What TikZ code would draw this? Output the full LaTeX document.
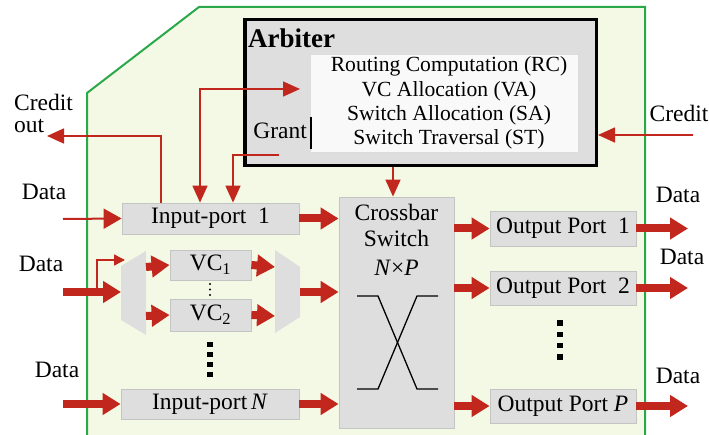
\documentclass[tikz,border=0pt]{standalone}
\usepackage{fontspec}
\setmainfont{Liberation Serif}
\usetikzlibrary{arrows.meta}
\definecolor{rd}{HTML}{C1271D}
\definecolor{bg}{HTML}{F4F9E6}
\definecolor{gr}{HTML}{2BA84A}
\definecolor{bx}{HTML}{DEDEDE}
\definecolor{bxl}{HTML}{C4C4C4}
\definecolor{wb}{HTML}{F9F9F9}
\begin{document}
\begin{tikzpicture}[x=1pt,y=-1pt,
  every node/.style={font=\fontsize{23.5}{26}\selectfont, inner sep=0pt},
  box/.style={draw=bxl, fill=bx, line width=0.8pt},
  fat/.style={draw=rd, line width=8pt, -{Triangle[length=18pt,width=21pt]}},
  slim/.style={draw=rd, line width=1.6pt, -{Triangle[length=17pt,width=15pt]}},
  lbl/.style={anchor=base}]
\useasboundingbox (0,0) rectangle (709,435);
% router outline
\fill[bg] (87,440) -- (87,93) -- (199,7) -- (645,7) -- (645,440) -- cycle;
\draw[gr, line width=2pt] (87,440) -- (87,93) -- (199,7) -- (645,7) -- (645,440);
% arbiter
\node[draw=black, line width=3.5pt, fill=bx, minimum width=351.5pt, minimum height=146pt] (arb) at (420.5,92.5) {};
\node[anchor=base west, font=\bfseries\fontsize{27}{30}\selectfont] (arbt) at (248,48) {Arbiter};
\node[draw=bxl!60, fill=wb, line width=0.6pt, minimum width=268pt, minimum height=98pt] (algbox) at (444,103) {};
\node[align=center, font=\fontsize{21.6}{24.3}\selectfont] (alg) at (449,103) {Routing Computation (RC)\\VC Allocation (VA)\\Switch Allocation (SA)\\Switch Traversal (ST)};
\node[anchor=base east] (grant) at (307,139) {Grant};
\draw[line width=1.2pt] (311,117) -- (311,149);
% input side
\node[box, minimum width=177pt, minimum height=31pt] (p1) at (210.5,218.5) {Input-port\ \ 1};
\node[box, minimum width=81pt, minimum height=30pt] (vc1) at (210.5,265) {VC\textsubscript{1}};
\node[box, minimum width=81pt, minimum height=32pt] (vc2) at (210.5,315) {VC\textsubscript{2}};
\node[box, minimum width=178pt, minimum height=30pt] (pn) at (210,404) {Input-port\,\textit{N}};
\fill[bx] (121,266) -- (146,251) -- (146,335) -- (121,320) -- cycle;
\fill[bx] (275,250) -- (300,267) -- (300,317) -- (275,333) -- cycle;
\coordinate (dmxin) at (121,292);
\coordinate (dmx1) at (146,267);
\coordinate (dmx2) at (146,316);
\coordinate (mux1) at (275,267);
\coordinate (mux2) at (275,316);
\coordinate (muxout) at (300,292);
% crossbar
\node[box, minimum width=115pt, minimum height=231pt] (xbar) at (396.5,312.5) {};
\node[anchor=north, align=center] (xbart) at (396.5,203.5) {Crossbar\\Switch\\[3pt]\textit{N}×\textit{P}};
\draw[line width=1.3pt] (357,296) -- (378,296) -- (417,389) -- (438,389);
\draw[line width=1.3pt] (438,296) -- (417,296) -- (378,389) -- (357,389);
% outputs
\node[box, minimum width=146pt, minimum height=35pt] (o1) at (563,228.5) {Output Port\ \ 1};
\node[box, minimum width=146pt, minimum height=34pt] (o2) at (563,288) {Output Port\ \ 2};
\node[box, minimum width=146pt, minimum height=34pt] (op) at (563,406) {Output Port \textit{P}};
% dots
\foreach \y in {284,289.5,295} \fill (210,\y) circle (1.1pt);
\foreach \y in {344.5,354.5,364.5,374.5} \fill (207,\y-2.75) rectangle ++(6,5.5);
\foreach \y in {323,334.5,345.5,357} \fill (556.5,\y-2.75) rectangle ++(6,5.5);
% data arrows in
\coordinate (d1) at (63,219);
\coordinate (d2) at (63,292);
\coordinate (dn) at (63,404);
\coordinate (br) at (97,292);
\coordinate (brend) at (125,260);
\draw[draw=rd, line width=2pt, -{Triangle[length=18pt,width=20pt]}] (d1) -- (p1.west);
\draw[fat] (d2) -- (dmxin);
\draw[draw=rd, line width=1.6pt, -{Triangle[length=11pt,width=11pt]}] (br) |- (brend);
\draw[fat] (dn) -- (pn.west);
\draw[fat] (dmx1) -- (vc1.west);
\draw[fat] (dmx2) -- (vc2.west);
\draw[fat] (vc1.east) -- (mux1);
\draw[fat] (vc2.east) -- (mux2);
\draw[fat] (p1.east) -- (p1.east -| xbar.west);
\draw[fat] (muxout) -- (muxout -| xbar.west);
\draw[fat] (pn.east) -- (pn.east -| xbar.west);
\draw[fat] (xbar.east |- o1) -- (o1.west);
\draw[fat] (xbar.east |- o2) -- (o2.west);
\draw[fat] (xbar.east |- op) -- (op.west);
\coordinate (e1) at (688,228.5);
\coordinate (e2) at (688,288);
\coordinate (ep) at (688,406);
\draw[fat] (o1.east) -- (e1);
\draw[fat] (o2.east) -- (e2);
\draw[fat] (op.east) -- (ep);
% control arrows
\coordinate (cx) at (161,136);
\coordinate (co) at (47,136);
\draw[slim] (p1.north -| cx) -- (cx) -- (co);
\coordinate (g1) at (300,89);
\coordinate (g1c) at (200,89);
\draw[slim, {Triangle[length=17pt,width=15pt]}-{Triangle[length=17pt,width=15pt]}] (g1) -- (g1c) -- (p1.north -| g1c);
\coordinate (g2) at (279,155);
\coordinate (g2c) at (233,155);
\draw[slim] (g2) -- (g2c) -- (p1.north -| g2c);
\coordinate (ax) at (393,167);
\draw[slim] (arb.south -| ax) -- (xbar.north -| ax);
\coordinate (ci) at (693,135);
\draw[slim] (ci) -- (ci -| arb.east);
% labels
\node[anchor=north west, align=left, font=\fontsize{23.5}{22}\selectfont] (cout) at (14,94) {Credit\\out};
\node[lbl] (cin) at (679,122) {Credit};
\node[lbl] (dl1) at (44,200) {Data};
\node[lbl] (dl2) at (41,272) {Data};
\node[lbl] (dl3) at (57,377) {Data};
\node[lbl] (dr1) at (678,203) {Data};
\node[lbl] (dr2) at (682,265) {Data};
\node[lbl] (dr3) at (678,383) {Data};
\end{tikzpicture}
\end{document}
